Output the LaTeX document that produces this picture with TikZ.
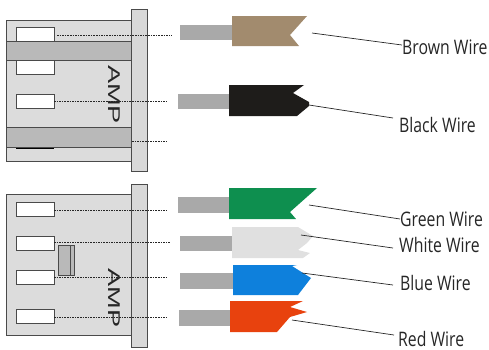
\documentclass[tikz,border=0pt]{standalone}
\usepackage{fontspec}
\setmainfont{Liberation Sans}
\newfontfamily\wirefont[FakeStretch=0.79]{Open Sans}
\definecolor{bodyg}{HTML}{DCDCDC}
\definecolor{plateg}{HTML}{D8D8D8}
\definecolor{bandg}{HTML}{B9B9B9}
\definecolor{edgeg}{HTML}{4A4A4A}
\definecolor{coreg}{HTML}{A9A9A9}
\definecolor{cbrown}{HTML}{A28B6E}
\definecolor{cblack}{HTML}{1E1C1A}
\definecolor{cgreen}{HTML}{0E8F4F}
\definecolor{cwhite}{HTML}{E0E0E0}
\definecolor{cblue}{HTML}{0E80DC}
\definecolor{cred}{HTML}{E8420E}
\tikzset{
 shell/.style={draw=edgeg,line width=0.8pt,fill=bodyg},
 flange/.style={draw=edgeg,line width=0.8pt,fill=plateg},
 band/.style={draw=edgeg,line width=0.8pt,fill=bandg},
 slot/.style={draw=edgeg,line width=0.8pt,fill=white},
 guide/.style={draw=black!85,line width=0.7pt,dash pattern=on 1.6pt off 1pt},
 core/.style={fill=coreg,draw=none},
 leader/.style={draw=black!85,line width=0.7pt},
 wirelabel/.style={font=\wirefont\fontsize{20}{20}\selectfont,text=black!85,anchor=west,inner sep=0pt},
 amp/.style={font=\fontsize{17}{17}\selectfont,rotate=-90,xscale=1.6,text=black!85,inner sep=0pt}
}
\begin{document}
\begin{tikzpicture}[x=1pt,y=-1pt]
\useasboundingbox (0,0) rectangle (489,349);
% top connector
\draw[shell] (6,20) rectangle (131,161);
\draw[slot] (16,27) rectangle (54,41);
\draw[slot] (16,60) rectangle (54,74);
\draw[slot] (16,94) rectangle (54,108);
\draw[line width=1.2pt,black] (16,148) -- (54,148);
\draw[band] (6,41) rectangle (131,60);
\draw[band] (6,127) rectangle (131,147);
\draw[flange] (131,9) rectangle (147,171);
\node[amp] (amptop) at (114,94.5) {AMP};
\draw[guide] (57,35) -- (172,35);
\draw[guide] (54,101) -- (168,101);
\draw[guide] (132,141) -- (168,141);
% bottom connector
\draw[shell] (6,194) rectangle (131,335);
\draw[slot] (16,202) rectangle (54,216);
\draw[slot] (16,236) rectangle (54,250);
\draw[slot] (16,270) rectangle (54,284);
\draw[slot] (16,309) rectangle (54,323);
\draw[draw=edgeg,line width=0.8pt,fill=bandg] (58,245) rectangle (74,275);
\draw[draw=edgeg,line width=0.6pt] (70,245) -- (70,275);
\draw[flange] (131,184) rectangle (147,347);
\node[amp] (ampbot) at (114,298) {AMP};
\draw[guide] (54,210) -- (168,210);
\draw[guide] (54,242) -- (170,242);
\draw[guide] (54,277) -- (168,277);
\draw[guide] (54,317) -- (168,317);
% wires
\fill[core] (180,25) rectangle (232,40);
\fill[cbrown] (232,16) -- (307,16) -- (290,35) -- (299,46) -- (232,46) -- cycle;
\fill[core] (178,94) rectangle (231,109);
\fill[cblack] (229,85) -- (304,85) -- (293,93) -- (309,102) -- (309,106) -- (297,116) -- (229,116) -- cycle;
\fill[core] (178,197) rectangle (229,213);
\fill[cgreen] (229,188) -- (317,188) -- (290,212) -- (296,219) -- (229,219) -- cycle;
\fill[core] (180,236) rectangle (232,251);
\fill[cwhite] (232,227) -- (298,227) -- (313,236) -- (307,243) -- (298,250) -- (310,253) -- (303,258) -- (232,258) -- cycle;
\fill[core] (180,273) rectangle (233,289);
\fill[cblue] (233,265) -- (297,265) -- (292,266) -- (311,278) -- (298,295) -- (233,295) -- cycle;
\fill[core] (179,310) rectangle (231,326);
\fill[cred] (230,301) -- (303,301) -- (290,307) -- (307,312) -- (290,317) -- (277,332) -- (230,332) -- cycle;
% labels
\node[wirelabel] (brown) at (402,47) {Brown Wire};
\node[wirelabel] (black) at (399,125) {Black Wire};
\node[wirelabel] (green) at (400,219) {Green Wire};
\node[wirelabel] (whitew) at (399,245) {White Wire};
\node[wirelabel] (blue) at (400,283) {Blue Wire};
\node[wirelabel] (red) at (398,338.5) {Red Wire};
% leader ends
\coordinate (lb1) at (312,33);
\coordinate (lb2) at (309,105);
\coordinate (lg) at (309,205);
\coordinate (lw) at (301,235);
\coordinate (lbl) at (302,273);
\coordinate (lr) at (292,320);
\coordinate (eb1) at (402,45);
\coordinate (eb2) at (393,118);
\coordinate (eg) at (400,219);
\coordinate (ew) at (393,248);
\coordinate (ebl) at (393,285);
\coordinate (er) at (394,335);
\draw[leader] (lb1) -- (eb1);
\draw[leader] (lb2) -- (eb2);
\draw[leader] (lg) -- (eg);
\draw[leader] (lw) -- (ew);
\draw[leader] (lbl) -- (ebl);
\draw[leader] (lr) -- (er);
\end{tikzpicture}
\end{document}
